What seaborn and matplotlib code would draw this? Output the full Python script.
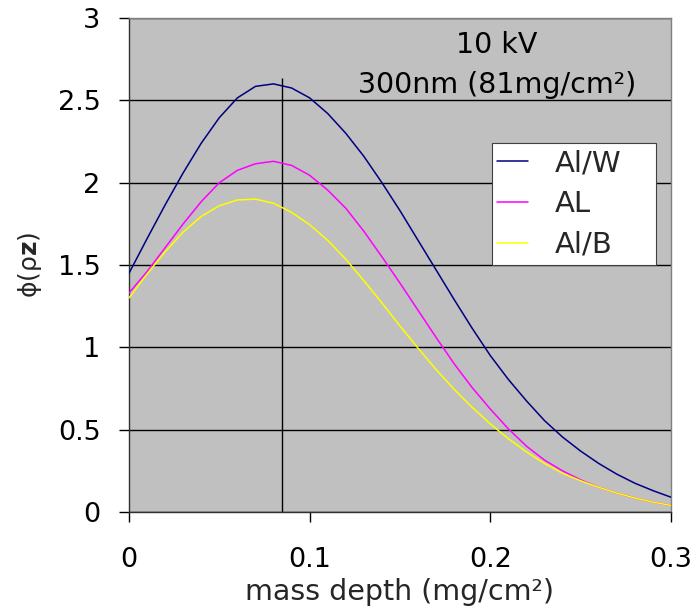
import matplotlib
matplotlib.use("Agg")
import matplotlib.pyplot as plt
import numpy as np
import pandas as pd
import seaborn as sns

# ---- data ----
depth = [0.00, 0.01, 0.02, 0.03, 0.04, 0.05, 0.06, 0.07, 0.08, 0.09,
         0.10, 0.11, 0.12, 0.13, 0.14, 0.15, 0.16, 0.17, 0.18, 0.19,
         0.20, 0.21, 0.22, 0.23, 0.24, 0.25, 0.26, 0.27, 0.28, 0.29, 0.30]
al_w = [1.45, 1.66, 1.865, 2.06, 2.24, 2.395, 2.515, 2.585, 2.60, 2.575,
        2.515, 2.42, 2.30, 2.16, 2.00, 1.83, 1.65, 1.47, 1.29, 1.115,
        0.95, 0.805, 0.675, 0.555, 0.455, 0.37, 0.295, 0.23, 0.175, 0.13, 0.09]
al = [1.33, 1.46, 1.605, 1.75, 1.885, 2.00, 2.075, 2.115, 2.13, 2.105,
      2.045, 1.955, 1.845, 1.705, 1.55, 1.39, 1.225, 1.06, 0.90, 0.755,
      0.625, 0.505, 0.40, 0.315, 0.25, 0.195, 0.15, 0.115, 0.085, 0.06, 0.04]
al_b = [1.30, 1.445, 1.58, 1.70, 1.795, 1.86, 1.895, 1.90, 1.875, 1.82,
        1.745, 1.65, 1.535, 1.405, 1.27, 1.13, 0.995, 0.865, 0.745, 0.635,
        0.535, 0.445, 0.365, 0.295, 0.235, 0.19, 0.15, 0.115, 0.085, 0.06, 0.04]
series_names = ["Al/W", "AL", "Al/B"]
series_colors = ["#000080", "#FF00FF", "#FFFF00"]
marker_depth = 0.0847
marker_top = 2.635
x_ticks = [0, 0.1, 0.2, 0.3]
x_tick_labels = ["0", "0.1", "0.2", "0.3"]
y_ticks = [0, 0.5, 1, 1.5, 2, 2.5, 3]
y_tick_labels = ["0", "0.5", "1", "1.5", "2", "2.5", "3"]
annot_lines = ["10 kV", "300nm (81mg/cm²)"]
annot_x = 0.2037
annot_y = [2.835, 2.593]

# ---- style ----
sns.set_theme(style="white")
plt.rcParams['font.family'] = ['DejaVu Sans']
plt.rcParams['mathtext.fontset'] = 'dejavusans'

df = pd.DataFrame({"depth": depth, "Al/W": al_w, "AL": al, "Al/B": al_b})
long = df.melt(id_vars="depth", var_name="series", value_name="phi")

fig = plt.figure(figsize=(6.98, 6.11), dpi=100)
fig.patch.set_facecolor("white")
ax = fig.add_axes([0.1848, 0.162, 0.7765, 0.8085])
ax.set_facecolor("#C0C0C0")

sns.lineplot(data=long, x="depth", y="phi", hue="series", hue_order=series_names,
             palette=dict(zip(series_names, series_colors)), linewidth=1.1,
             ax=ax, legend=True, zorder=3)

ax.vlines(marker_depth, 0, marker_top, color="black", linewidth=1.0, zorder=2)

ax.set_xlim(0, 0.3)
ax.set_ylim(0, 3)
ax.set_xticks(x_ticks)
ax.set_xticklabels(x_tick_labels)
ax.set_yticks(y_ticks)
ax.set_yticklabels(y_tick_labels)
ax.yaxis.grid(True, color="black", linewidth=1.0)
ax.xaxis.grid(False)
ax.set_axisbelow(True)

ax.tick_params(axis="both", direction="out", length=7, width=1, colors="black",
               labelsize=19.5, left=True, bottom=True)
ax.tick_params(axis="y", pad=13.5)
ax.tick_params(axis="x", pad=18)

for side in ["left", "bottom"]:
    ax.spines[side].set_color("#303030")
    ax.spines[side].set_linewidth(1.0)
for side in ["right", "top"]:
    ax.spines[side].set_color("#808080")
    ax.spines[side].set_linewidth(1.0)

ax.set_xlabel("mass depth (mg/cm²)", fontsize=20.5, labelpad=4)
ax.set_ylabel(r"ϕ(ρ$\mathbf{z}$)", fontsize=18, labelpad=10)

for txt, yy in zip(annot_lines, annot_y):
    ax.text(annot_x, yy, txt, ha="center", va="center", fontsize=20.5, color="black")

handles, labels = ax.get_legend_handles_labels()
leg = ax.legend(handles, labels, loc="upper left",
                bbox_to_anchor=(0.669, 0.496, 0.3026, 0.25), mode="expand",
                borderaxespad=0, fontsize=21, frameon=True, fancybox=False,
                edgecolor="#404040", facecolor="white", framealpha=1,
                handlelength=1.06, handletextpad=0.9, labelspacing=0.44,
                borderpad=0.2)
leg.get_frame().set_linewidth(0.8)

fig.savefig("out.png", dpi=100)
